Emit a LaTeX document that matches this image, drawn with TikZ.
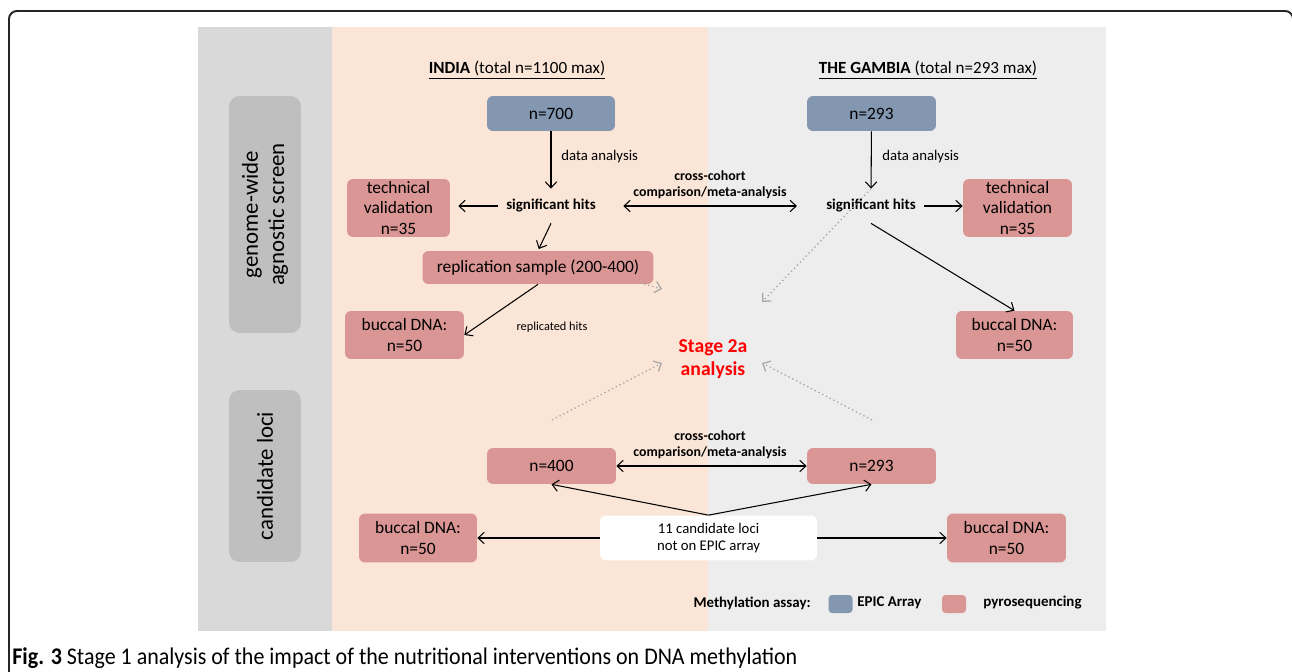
\documentclass[tikz,border=0pt]{standalone}
\usepackage{fontspec}
\setmainfont{Carlito}
\newfontfamily\capfont[FakeStretch=0.92]{Carlito}
\usetikzlibrary{arrows.meta}
\definecolor{epic}{RGB}{132,151,176}
\definecolor{pyro}{RGB}{218,150,148}
\definecolor{peach}{RGB}{251,229,214}
\definecolor{sidegray}{RGB}{217,217,217}
\definecolor{gambiabg}{RGB}{237,237,237}
\definecolor{pillgray}{RGB}{191,191,191}
\definecolor{dotgray}{RGB}{166,166,166}

\begin{document}
\begin{tikzpicture}[x=0.02cm, y=-0.02cm,
    box/.style={rounded corners=3.4pt, inner sep=0pt, align=center, font=\fontsize{9.9}{11.8}\selectfont},
    epicbox/.style={box, fill=epic},
    pyrobox/.style={box, fill=pyro},
    pill/.style={rounded corners=6pt, fill=pillgray, rotate=90, align=center, inner sep=0pt, minimum height=1.44cm, font=\fontsize{13}{15}\selectfont},
    hits/.style={font=\bfseries\fontsize{8.5}{10}\selectfont, inner xsep=4.5pt, inner ysep=0pt, minimum height=0.68cm},
    lbl/.style={font=\fontsize{8.4}{10}\selectfont, inner sep=0pt},
    cmp/.style={font=\bfseries\fontsize{7.9}{9}\selectfont, align=center, inner sep=0pt},
    legtext/.style={font=\bfseries\fontsize{8.5}{10}\selectfont, inner sep=0pt},
    conn/.style={line width=0.6pt, -{Straight Barb[length=3.5pt,width=6.5pt]}},
    both/.style={line width=0.6pt, {Straight Barb[length=3.5pt,width=6.5pt]}-{Straight Barb[length=3.5pt,width=6.5pt]}},
    dotarrow/.style={dotgray, line width=0.7pt, dash pattern=on 0.8pt off 1.6pt, -{Straight Barb[length=3.5pt,width=6.5pt]}}]
    \useasboundingbox (0,0) rectangle (1292,672);
    % 画背景
    \draw[line width=1.1pt, black!85, rounded corners=4.5pt] (9,700) -- (9,11) -- (1293,11) -- (1293,700);
    \fill[sidegray] (198,27) rectangle (332,631);
    \fill[peach] (332,27) rectangle (708,631);
    \fill[gambiabg] (708,27) rectangle (1106,631);
    \node[pill, minimum width=4.74cm] (gw) at (265,214.5) {genome-wide\\agnostic screen};
    \node[pill, minimum width=3.44cm] (cl) at (265,476) {candidate loci};
    \node[anchor=base, inner sep=0pt, font=\fontsize{9.7}{11}\selectfont] (tI) at (517,74) {\underline{\textbf{INDIA} (total n=1100 max)}};
    \node[anchor=base, inner sep=0pt, font=\fontsize{9.7}{11}\selectfont] (tG) at (928,74) {\underline{\textbf{THE GAMBIA} (total n=293 max)}};
    % 全基因组筛查
    \node[epicbox, minimum width=2.56cm, minimum height=0.70cm] (n700) at (551,113.5) {n=700};
    \node[epicbox, minimum width=2.58cm, minimum height=0.70cm] (g293) at (871.5,113.5) {n=293};
    \node[hits] (sigI) at (551,206) {significant hits};
    \node[hits] (sigG) at (871,206) {significant hits};
    \node[pyrobox, minimum width=2.06cm, minimum height=1.16cm] (techI) at (398.5,208) {technical\\validation\\n=35};
    \node[pyrobox, minimum width=2.18cm, minimum height=1.16cm] (techG) at (1017.5,208) {technical\\validation\\n=35};
    \node[pyrobox, minimum width=4.62cm, minimum height=0.66cm] (repl) at (538,267.5) {replication sample (200-400)};
    \node[pyrobox, minimum width=2.38cm, minimum height=0.96cm] (buccI) at (404.5,335) {buccal DNA:\\n=50};
    \node[pyrobox, minimum width=2.34cm, minimum height=0.96cm] (buccG) at (1014.5,335) {buccal DNA:\\n=50};
    \node[lbl, anchor=west] (daI) at (561,157) {data analysis};
    \node[lbl, anchor=west] (daG) at (882,157) {data analysis};
    \node[lbl, font=\fontsize{7}{8}\selectfont] (rh) at (552,327) {replicated hits};
    \node[cmp] (ccT) at (710,185) {cross-cohort\\comparison/meta-analysis};
    \draw[conn] (n700) -- (sigI);
    \draw[conn] (g293) -- (sigG);
    \draw[conn, shorten >=4.5pt] (sigI.west) -- (sigI.west -| techI.east);
    \draw[conn] (sigG.east) -- (sigG.east -| techG.west);
    \draw[both, shorten <=11pt, shorten >=12pt] (sigI.east) -- (sigG.west);
    \draw[conn, shorten >=1pt] (sigI.south) -- (repl.north);
    \draw[conn] (repl.south) -- (buccI.east);
    \draw[conn] (sigG.south) -- (buccG.north);
    % 第二阶段
    \node[font=\bfseries\fontsize{11.2}{13}\selectfont, text=red, align=center, inner sep=0pt] (stage) at (713,359) {Stage 2a\\analysis};
    \coordinate (dA) at (640,283);
    \coordinate (hA) at (662,289);
    \coordinate (hB) at (762,302);
    \coordinate (dC) at (552,420);
    \coordinate (hC) at (662,363);
    \coordinate (dD) at (872,420);
    \coordinate (hD) at (762,363);
    \draw[dotarrow] (dA) -- (hA);
    \draw[dotarrow] (sigG.north) -- (hB);
    \draw[dotarrow] (dC) -- (hC);
    \draw[dotarrow] (dD) -- (hD);
    % 候选位点
    \node[pyrobox, minimum width=2.58cm, minimum height=0.72cm] (n400) at (551.5,466) {n=400};
    \node[pyrobox, minimum width=2.58cm, minimum height=0.72cm] (g293b) at (871.5,466) {n=293};
    \node[box, fill=white, minimum width=4.34cm, minimum height=0.9cm, font=\fontsize{8.4}{10}\selectfont] (cand) at (708.5,538) {11 candidate loci\\not on EPIC array};
    \node[pyrobox, minimum width=2.36cm, minimum height=0.98cm] (buccL) at (418,538) {buccal DNA:\\n=50};
    \node[pyrobox, minimum width=2.38cm, minimum height=0.98cm] (buccR) at (1006.5,538) {buccal DNA:\\n=50};
    \node[cmp] (ccB) at (710,444.5) {cross-cohort\\comparison/meta-analysis};
    \draw[both] (n400) -- (g293b);
    \draw[conn] (cand.north) -- (n400.south);
    \draw[conn] (cand.north) -- (g293b.south);
    \draw[conn] (cand) -- (buccL);
    \draw[conn] (cand) -- (buccR);
    % 图例
    \node[legtext, anchor=east] (leg) at (811,603) {Methylation assay:};
    \node[epicbox, minimum width=0.48cm, minimum height=0.36cm, rounded corners=2pt] (swE) at (840.5,604) {};
    \node[legtext, anchor=west] (lE) at (857,603) {EPIC Array};
    \node[pyrobox, minimum width=0.48cm, minimum height=0.36cm, rounded corners=2pt] (swP) at (954,604) {};
    \node[legtext, anchor=west] (lP) at (983,603) {pyrosequencing};
    % 图注
    \node[anchor=base west, inner sep=0pt, font=\capfont\fontsize{13.6}{16}\selectfont] (cap) at (12,664) {\textbf{Fig. 3} Stage 1 analysis of the impact of the nutritional interventions on DNA methylation};
\end{tikzpicture}
\end{document}
